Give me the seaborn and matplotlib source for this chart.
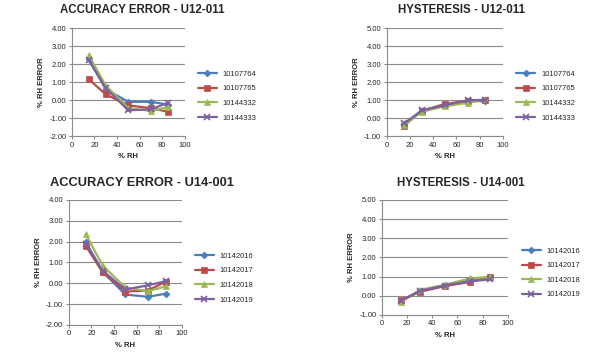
import seaborn as sns
import matplotlib.pyplot as plt
import pandas as pd

# % RH test points
rh = [15, 30, 50, 70, 85]
rh_u14 = [15, 30, 50, 70, 86]

# U12-011 loggers
u12_ids = ['10107764', '10107765', '10144332', '10144333']
u12_acc = [
    [2.30, 0.60, -0.10, -0.10, -0.25],
    [1.15, 0.32, -0.30, -0.45, -0.65],
    [2.48, 0.80, -0.45, -0.60, -0.40],
    [2.20, 0.65, -0.57, -0.52, -0.15],
]
u12_hys = [
    [-0.35, 0.38, 0.70, 0.92, 0.95],
    [-0.42, 0.40, 0.78, 0.97, 1.00],
    [-0.40, 0.35, 0.65, 0.85, 1.05],
    [-0.30, 0.42, 0.72, 0.98, 1.02],
]

# U14-001 loggers
u14_ids = ['10142016', '10142017', '10142018', '10142019']
u14_acc = [
    [2.00, 0.55, -0.54, -0.65, -0.50],
    [1.80, 0.52, -0.40, -0.35, 0.08],
    [2.35, 0.85, -0.20, -0.38, -0.15],
    [1.90, 0.60, -0.30, -0.10, 0.10],
]
u14_hys = [
    [-0.28, 0.25, 0.55, 0.85, 0.98],
    [-0.25, 0.20, 0.50, 0.72, 0.98],
    [-0.33, 0.30, 0.57, 0.90, 0.98],
    [-0.28, 0.25, 0.53, 0.75, 0.85],
]

colors = ['#4A7EBB', '#BE4B48', '#98B954', '#7D60A0']
markers = ['D', 's', '^', 'x']
msizes = [3.5, 5, 5, 5]

sns.set_style('white')
plt.rcParams['font.family'] = ['Liberation Sans', 'DejaVu Sans']

fig = plt.figure(figsize=(6.14, 3.59), dpi=100)


def panel(rect, title, x, ids, values, ylim, yticks, title_pos, title_size, leg_y):
    ax = fig.add_axes(rect)
    for i, (sid, vals) in enumerate(zip(ids, values)):
        sns.lineplot(x=x, y=vals, ax=ax, color=colors[i], marker=markers[i],
                     markersize=msizes[i], markeredgecolor=colors[i],
                     markeredgewidth=1.2 if markers[i] == 'x' else 0.5,
                     linewidth=1.6, label=sid)
    ax.set_xlim(0, 100)
    ax.set_ylim(*ylim)
    ax.set_xticks(range(0, 101, 20))
    ax.set_yticks(yticks)
    ax.set_yticklabels([f'{v:.2f}' for v in yticks])
    ax.yaxis.grid(True, color='#8c8c8c', linewidth=0.8)
    ax.xaxis.grid(False)
    for s in ['top', 'right']:
        ax.spines[s].set_visible(False)
    for s in ['left', 'bottom']:
        ax.spines[s].set_color('#8c8c8c')
        ax.spines[s].set_linewidth(0.8)
    ax.tick_params(axis='both', labelsize=5.5, length=2, color='#8c8c8c', pad=2,
                   left=True, bottom=True)
    ax.set_xlabel('% RH', fontsize=5.5, fontweight='bold', labelpad=3)
    ax.set_ylabel('% RH ERROR', fontsize=5.5, fontweight='bold', labelpad=3)
    ax.set_title(title, fontsize=title_size, fontweight='bold',
                 x=title_pos[0], y=title_pos[1])
    ax.legend(loc='center left', bbox_to_anchor=(1.08, leg_y), frameon=False,
              fontsize=5.5, handlelength=2.5, labelspacing=0.95, borderpad=0)
    return ax


panel([0.117, 0.621, 0.184, 0.301], 'ACCURACY ERROR - U12-011', rh, u12_ids,
      u12_acc, (-2, 4), [-2, -1, 0, 1, 2, 3, 4], (0.62, 1.06), 8.3, 0.37)
panel([0.630, 0.621, 0.189, 0.301], 'HYSTERESIS - U12-011', rh, u12_ids,
      u12_hys, (-1, 5), [-1, 0, 1, 2, 3, 4, 5], (0.64, 1.06), 8.3, 0.37)
panel([0.112, 0.095, 0.184, 0.348], 'ACCURACY ERROR - U14-001', rh_u14, u14_ids,
      u14_acc, (-2, 4), [-2, -1, 0, 1, 2, 3, 4], (0.65, 1.045), 9.3, 0.375)
panel([0.622, 0.123, 0.205, 0.320], 'HYSTERESIS - U14-001', rh_u14, u14_ids,
      u14_hys, (-1, 5), [-1, 0, 1, 2, 3, 4, 5], (0.63, 1.05), 8.3, 0.365)

fig.savefig('out.png', dpi=100)
